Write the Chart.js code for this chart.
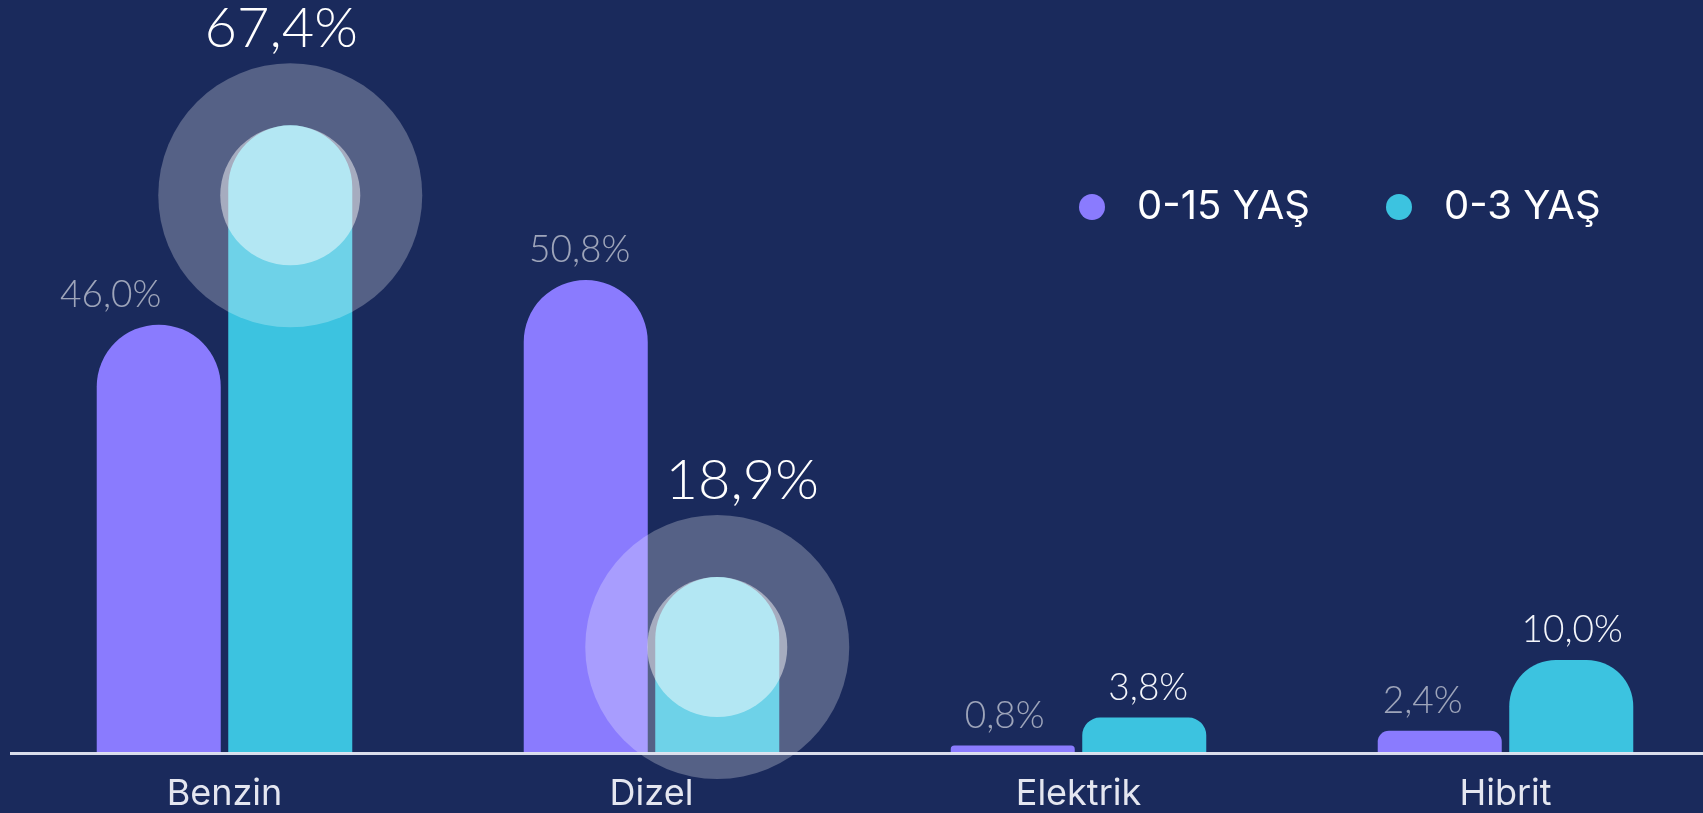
<!DOCTYPE html>
<html lang="tr">
<head>
<meta charset="utf-8">
<title>Yakıt türü dağılımı</title>
<script src="https://cdn.jsdelivr.net/npm/chart.js@4.4.1/dist/chart.umd.min.js"></script>
<style>
    html, body { margin: 0; padding: 0; background: #1a2a5c; overflow: hidden; }
    #wrap { width: 1719px; height: 813px; position: relative; }
</style>
</head>
<body>
<div id="wrap"><canvas id="chart"></canvas></div>
<script>
    // veriler
    const categories = ["Benzin", "Dizel", "Elektrik", "Hibrit"];
    const seriesLabels = ["0-15 YAŞ", "0-3 YAŞ"];
    const values015 = [46.0, 50.8, 0.8, 2.4];
    const values03 = [67.4, 18.9, 3.8, 10.0];
    const highlighted03 = [0, 1]; // büyük halka ile vurgulanan 0-3 YAŞ çubukları

    const colors = ["#8a7bfe", "#3cc3e0"];

    const fmt = function (v) {
        return v.toFixed(1).replace(".", ",") + "%";
    };

    // halka + büyük etiket
    const highlightPlugin = {
        id: "highlight",
        afterDatasetsDraw: function (chart, args, opts) {
            const ctx = chart.ctx;
            const meta = chart.getDatasetMeta(opts.datasetIndex);
            const aData = chart.data.datasets[opts.datasetIndex].data;
            opts.indices.forEach(function (idx, k) {
                const bar = meta.data[idx];
                const cx = bar.x;
                const cy = bar.y + opts.innerRadius;
                ctx.save();
                ctx.fillStyle = opts.ringColor;
                ctx.beginPath();
                ctx.arc(cx, cy, opts.outerRadius, 0, Math.PI * 2);
                ctx.fill();
                ctx.fillStyle = opts.coreColor;
                ctx.beginPath();
                ctx.arc(cx, cy, opts.innerRadius, 0, Math.PI * 2);
                ctx.fill();
                ctx.font = opts.font;
                ctx.fillStyle = "#ffffff";
                ctx.textAlign = "center";
                ctx.textBaseline = "alphabetic";
                ctx.fillText(fmt(aData[idx]), cx + opts.textShift[k], cy - opts.outerRadius - 16);
                ctx.restore();
            });
        }
    };

    // küçük değer etiketleri
    const valueLabelPlugin = {
        id: "valueLabels",
        afterDatasetsDraw: function (chart, args, opts) {
            const ctx = chart.ctx;
            ctx.save();
            ctx.font = opts.font;
            ctx.textAlign = "center";
            ctx.textBaseline = "alphabetic";
            chart.data.datasets.forEach(function (ds, di) {
                const meta = chart.getDatasetMeta(di);
                ds.data.forEach(function (v, i) {
                    if (di === 1 && highlighted03.includes(i)) return;
                    const bar = meta.data[i];
                    ctx.fillStyle = opts.colors[di];
                    ctx.fillText(fmt(v), bar.x + opts.shiftX[di][i], bar.y - opts.gap);
                });
            });
            ctx.restore();
        }
    };

    // sağ üst lejant
    const legendPlugin = {
        id: "dotLegend",
        afterDraw: function (chart, args, opts) {
            const ctx = chart.ctx;
            ctx.save();
            ctx.font = opts.font;
            ctx.textAlign = "left";
            ctx.textBaseline = "middle";
            chart.data.datasets.forEach(function (ds, di) {
                const x = opts.itemX[di];
                ctx.fillStyle = ds.backgroundColor;
                ctx.beginPath();
                ctx.arc(x, opts.y, opts.dotRadius, 0, Math.PI * 2);
                ctx.fill();
                ctx.fillStyle = opts.color;
                ctx.fillText(ds.label, x + opts.textGap, opts.y);
            });
            ctx.restore();
        }
    };

    const ctx = document.getElementById("chart").getContext("2d");
    new Chart(ctx, {
        type: "bar",
        plugins: [highlightPlugin, valueLabelPlugin, legendPlugin],
        data: {
            labels: categories,
            datasets: [
                {
                    label: seriesLabels[0],
                    data: values015,
                    backgroundColor: colors[0],
                    borderRadius: 100,
                    borderSkipped: "start",
                    categoryPercentage: 0.616,
                    barPercentage: 0.943
                },
                {
                    label: seriesLabels[1],
                    data: values03,
                    backgroundColor: colors[1],
                    borderRadius: 100,
                    borderSkipped: "start",
                    categoryPercentage: 0.616,
                    barPercentage: 0.943
                }
            ]
        },
        options: {
            responsive: true,
            maintainAspectRatio: false,
            animation: false,
            layout: { padding: { left: 11, top: 8, right: 0, bottom: 0 } },
            plugins: {
                legend: { display: false },
                tooltip: { enabled: false },
                highlight: {
                    datasetIndex: 1,
                    indices: highlighted03,
                    innerRadius: 70,
                    outerRadius: 132,
                    ringColor: "rgba(255,255,255,0.26)",
                    coreColor: "rgba(255,255,255,0.48)",
                    font: "300 56px Lato, 'Open Sans', sans-serif",
                    textShift: [-9, 25]
                },
                valueLabels: {
                    font: "300 37px Lato, 'Open Sans', sans-serif",
                    colors: ["rgba(255,255,255,0.58)", "#f4f6fb"],
                    gap: 18,
                    shiftX: [[-48, -6, -8, -17], [0, 0, 4, 1]]
                },
                dotLegend: {
                    font: "400 40px Inter, 'Noto Sans', sans-serif",
                    color: "#ffffff",
                    itemX: [1092, 1399],
                    y: 207,
                    dotRadius: 13,
                    textGap: 45
                }
            },
            scales: {
                x: {
                    grid: { display: false, drawTicks: false },
                    border: { display: true, color: "rgba(228,231,242,0.95)", width: 3, z: 1 },
                    ticks: {
                        color: "#e4e6f0",
                        font: { family: "Inter", size: 36 },
                        padding: 20
                    },
                    afterFit: function (scale) {
                        scale.height = 60;
                    }
                },
                y: {
                    display: false,
                    min: 0,
                    max: 80
                }
            }
        }
    });
</script>
</body>
</html>
